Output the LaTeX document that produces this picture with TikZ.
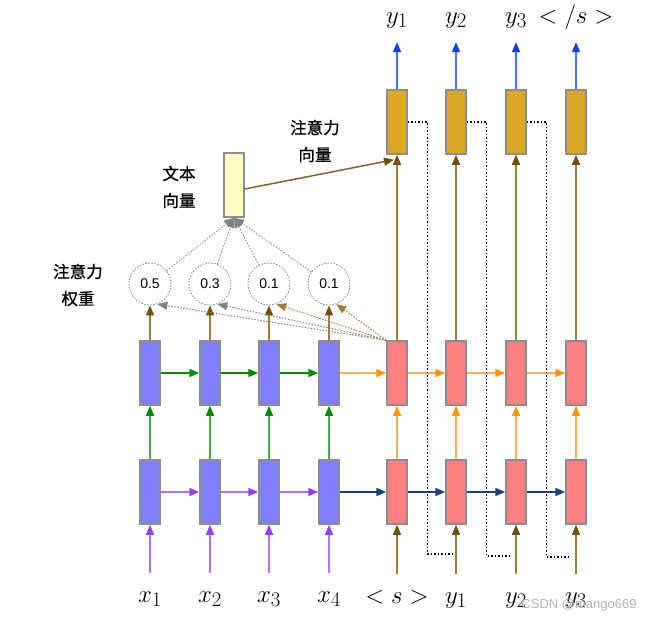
\documentclass[tikz,border=0pt]{standalone}
\usepackage{fontspec}
\newfontfamily\cjk[FakeBold=1]{Noto Sans CJK SC}
\newfontfamily\numfont{Liberation Sans}
\usetikzlibrary{arrows.meta,calc}

\definecolor{encfill}{RGB}{128,128,255}
\definecolor{decfill}{RGB}{255,128,128}
\definecolor{outfill}{RGB}{218,168,36}
\definecolor{ctxfill}{RGB}{255,255,196}
\definecolor{cellline}{RGB}{140,140,140}
\definecolor{brownline}{RGB}{160,125,60}
\definecolor{browntip}{RGB}{110,80,10}
\definecolor{greenline}{RGB}{70,170,70}
\definecolor{greentip}{RGB}{0,140,0}
\definecolor{purpleline}{RGB}{175,115,255}
\definecolor{purpletip}{RGB}{150,60,255}
\definecolor{orangeline}{RGB}{255,175,80}
\definecolor{orangetip}{RGB}{255,150,0}
\definecolor{navyline}{RGB}{25,65,125}
\definecolor{blueline}{RGB}{70,110,255}
\definecolor{bluetip}{RGB}{20,60,255}

\tikzset{
  cell/.style={rectangle, draw=cellline, line width=1.5pt,
    minimum width=20pt, minimum height=64pt, inner sep=0pt},
  enccell/.style={cell, fill=encfill},
  deccell/.style={cell, fill=decfill},
  outcell/.style={cell, fill=outfill},
  ctxcell/.style={cell, fill=ctxfill},
  weight/.style={circle, draw=gray, line width=0.8pt, dash pattern=on 1.5pt off 1.5pt,
    minimum size=42pt, inner sep=0pt, font=\numfont\fontsize{14}{14}\selectfont},
  headcol/.style={-{Triangle[length=10pt,width=8pt,color=#1]}},
  vlink/.style 2 args={draw=#1, line width=1.4pt, headcol=#2},
  hlink/.style 2 args={draw=#1, line width=1.8pt, headcol=#2},
  inlabel/.style={font=\fontsize{32}{32}\selectfont, inner sep=0pt, anchor=base,
    text height=29pt, text depth=0pt},
  outlabel/.style={font=\fontsize{32}{32}\selectfont, inner sep=0pt, anchor=base,
    text depth=19pt},
  cjklabel/.style={font=\cjk\fontsize{16.5}{27}\selectfont, align=center},
  attlink/.style={draw=#1, line width=1pt, dash pattern=on 1.5pt off 1.5pt, headcol=#1},
  feedback/.style={draw=black, line width=1.2pt, dash pattern=on 1.5pt off 2pt}
}

\begin{document}
\begin{tikzpicture}[x=1pt,y=-1pt]
\useasboundingbox (0,0) rectangle (653,622);

% Encoder
\foreach \i/\x/\w in {1/150/0.5,2/210/0.3,3/269/0.1,4/329/0.1}{
  \node[enccell] (eb\i) at (\x,492) {};
  \node[enccell] (et\i) at (\x,373) {};
  \node[weight] (att\i) at (\x,284) {\w};
  \node[inlabel] (xin\i) at (\x,602) {$x_\i$};
}

% Decoder
\foreach \j/\x/\a/\b in {1/397/{<s>}/{y_1},2/456/{y_1}/{y_2},3/516/{y_2}/{y_3},4/576/{y_3}/{</s>}}{
  \node[deccell] (db\j) at (\x,492) {};
  \node[deccell] (dt\j) at (\x,373) {};
  \node[outcell] (go\j) at (\x,122) {};
  \node[inlabel] (yin\j) at (\x,603) {$\a$};
  \node[outlabel] (yout\j) at (\x,23) {$\b$};
}

% Context vector
\node[ctxcell] (ctx) at (234,185) {};

% Labels
\node[cjklabel] (lblattvec) at (315,141) {注意力\\向量};
\node[cjklabel] (lblctx) at (179,187) {文本\\向量};
\node[cjklabel] (lblweight) at (78,285) {注意力\\权重};
\node[font=\numfont\fontsize{13}{13}\selectfont, text=gray!60] (mark) at (579,605) {CSDN @mango669};

% Encoder links
\foreach \i in {1,2,3}{
  \pgfmathtruncatemacro\k{\i+1}
  \draw[hlink={greentip}{greentip}] (et\i.east) -- (et\k.west);
  \draw[hlink={purpleline}{purpletip}] (eb\i.east) -- (eb\k.west);
}
\foreach \i in {1,...,4}{
  \draw[vlink={purpleline}{purpletip}] (xin\i.north) -- (eb\i.south);
  \draw[vlink={greenline}{greentip}] (eb\i.north) -- (et\i.south);
  \draw[vlink={brownline}{browntip}] (et\i.north) -- (att\i.south);
  \draw[draw=gray, line width=0.8pt, dash pattern=on 1.5pt off 1.5pt, headcol=gray] (att\i) -- (ctx.south);
}

% Encoder to decoder
\draw[hlink={orangeline}{orangetip}] (et4.east) -- (dt1.west);
\draw[hlink={navyline}{navyline}] (eb4.east) -- (db1.west);

% Decoder links
\foreach \j in {1,2,3}{
  \pgfmathtruncatemacro\k{\j+1}
  \draw[hlink={orangeline}{orangetip}] (dt\j.east) -- (dt\k.west);
  \draw[hlink={navyline}{navyline}] (db\j.east) -- (db\k.west);
}
\foreach \j in {1,...,4}{
  \draw[vlink={brownline}{browntip}] (yin\j.north) -- (db\j.south);
  \draw[vlink={orangeline}{orangetip}] (db\j.north) -- (dt\j.south);
  \draw[vlink={brownline}{browntip}] (dt\j.north) -- (go\j.south);
  \draw[vlink={blueline}{bluetip}] (go\j.north) -- (yout\j.south);
}

% Attention scores
\draw[attlink=gray] (dt1.north west) -- (att1.-70);
\draw[attlink=gray] (dt1.north west) -- (att2.-70);
\draw[attlink=brownline] (dt1.north west) -- (att3.-70);
\draw[attlink=brownline] (dt1.north west) -- (att4.-70);

% Attention vector
\draw[draw=brownline!80!black, line width=1.5pt, headcol=browntip] ($(ctx.east)+(0,4)$) -- ($(go1.south)+(-3,5)$);

% Feedback of outputs
\coordinate (fb1) at (453,554);
\coordinate (fb2) at (512,556);
\coordinate (fb3) at (571,557);
\foreach \j in {1,2,3}{
  \draw[feedback] (go\j.east) -- ++(20,0) |- (fb\j);
}
\end{tikzpicture}
\end{document}
